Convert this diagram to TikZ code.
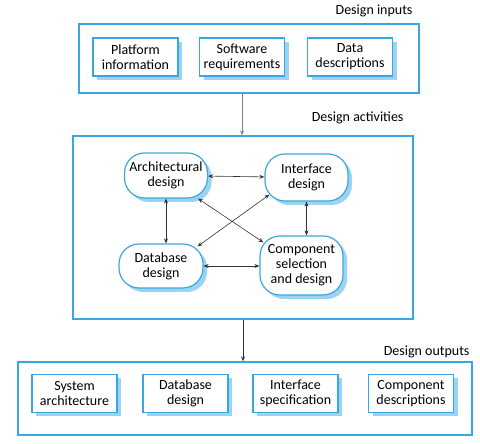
\documentclass[tikz,border=0pt]{standalone}
\usepackage{fontspec}
\setmainfont{Carlito}
\usetikzlibrary{arrows.meta,shadows}
\definecolor{boxblue}{HTML}{3AA8E0}
\definecolor{shadeblue}{HTML}{9DD3F2}
\definecolor{linkgray}{HTML}{333333}

\begin{document}
\begin{tikzpicture}[x=10pt, y=10pt, font=\fontsize{14}{15}\selectfont,
    >={Stealth[length=5pt,width=4pt]},
    frame/.style={draw=boxblue, line width=1.3pt, inner sep=0pt},
    item/.style={draw=boxblue, line width=1.2pt, fill=white, align=center,
        minimum width=85pt, minimum height=38pt, inner sep=0pt,
        drop shadow={shadow xshift=4pt, shadow yshift=-4pt, fill=shadeblue, opacity=1}},
    activity/.style={item, rounded corners=20pt, minimum width=83pt, minimum height=45pt},
    link/.style={<->, draw=linkgray, line width=0.6pt}]
    \useasboundingbox (0,0) rectangle (48,44.4);

    % design inputs
    \node [anchor=east] (intitle) at (41.6,43.3) {Design inputs};
    \node [frame, minimum width=340pt, minimum height=69pt] (inputs) at (24.9,38.55) {};
    \node [item] (platform) at (13.55,38.7) {Platform\\information};
    \node [item] (software) at (24.2,38.7) {Software\\requirements};
    \node [item] (data) at (35.0,38.7) {Data\\descriptions};

    % design activities
    \node [anchor=east] (acttitle) at (40.7,32.6) {Design activities};
    \node [frame, minimum width=340pt, minimum height=183pt] (activities) at (24.3,21.65) {};
    \node [activity] (arch) at (16.6,26.85) {Architectural\\design};
    \node [activity, minimum height=47pt] (iface) at (30.65,26.65) {Interface\\design};
    \node [activity, minimum width=84pt, minimum height=44pt] (db) at (16.1,17.8) {Database\\design};
    \node [activity, minimum height=59pt] (comp) at (30.15,17.85) {Component\\selection\\and design};

    \draw [link] (arch) -- (iface);
    \draw [link] (arch.south) -- (arch.south |- db.north);
    \draw [link] (iface.south) -- (iface.south |- comp.north);
    \draw [link] (db.east) -- (db.east -| comp.west);
    \draw [link] ([xshift=-10pt]arch.south east) -- ([xshift=4pt,yshift=-7pt]comp.north west);
    \draw [link] ([xshift=5pt,yshift=7pt]iface.south west) -- ([xshift=-6pt,yshift=-3pt]db.north east);

    % design outputs
    \node [anchor=east] (outtitle) at (47.3,9.2) {Design outputs};
    \node [frame, minimum width=454pt, minimum height=73pt] (outputs) at (24.5,4.55) {};
    \node [item] (sysarch) at (7.45,5.05) {System\\architecture};
    \node [item] (dbdesign) at (18.55,5.05) {Database\\design};
    \node [item] (ifspec) at (29.55,5.05) {Interface\\specification};
    \node [item] (compdesc) at (41.1,5.05) {Component\\descriptions};

    \draw [->, draw=gray, line width=0.8pt] (inputs.south -| software) -- (activities.north -| software);
    \draw [->, draw=linkgray, line width=0.7pt] (activities.south) -- (activities.south |- outputs.north);
\end{tikzpicture}
\end{document}
